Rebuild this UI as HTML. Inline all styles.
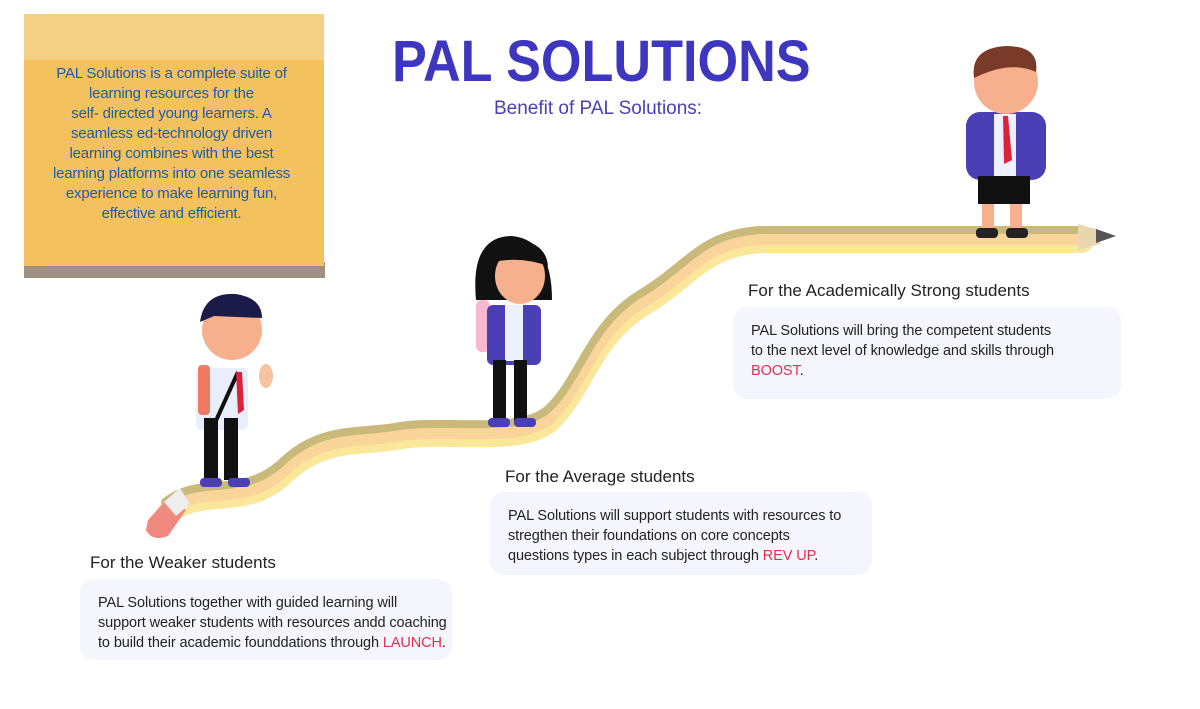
<!DOCTYPE html>
<html><head><meta charset="utf-8">
<style>
body{margin:0;width:1200px;height:709px;background:#fff;position:relative;overflow:hidden;font-family:"Liberation Sans",sans-serif}
.abs{position:absolute}
.note{left:24px;top:14px;width:300px;height:252px;background:#f3c25e}
.note .top{position:absolute;left:0;top:0;right:0;height:46px;background:#f3d083}
.shadow{left:24px;top:262px;width:301px;height:16px;background:#a09082}
.notetxt{left:30px;top:64px;width:283px;text-align:center;color:#1d5ca6;font-size:15px;line-height:20px;letter-spacing:-0.2px;white-space:nowrap}
.title{left:392px;top:28px;font-size:58px;font-weight:bold;color:#3d36bf;transform-origin:0 0;transform:scaleX(0.9)}
.sub{left:494px;top:98px;font-size:19px;color:#4a3fb5}
.h{font-size:17px;color:#222}
.box{background:#f5f5fd;border-radius:14px;font-size:14.5px;color:#222;line-height:20px;padding:14px 18px;box-sizing:border-box;white-space:nowrap;letter-spacing:-0.1px}
.red{color:#e0304a}
</style></head><body>
<div class="abs shadow"></div>
<div class="abs note"><div class="top"></div></div>
<div class="abs notetxt">PAL Solutions is a complete suite of<br>learning resources for the<br>self- directed young learners. A<br>seamless ed-technology driven<br>learning combines with the best<br>learning platforms into one seamless<br>experience to make learning fun,<br>effective and efficient.</div>
<div class="abs title">PAL SOLUTIONS</div>
<div class="abs sub">Benefit of PAL Solutions:</div>

<svg class="abs" style="left:0;top:0" width="1200" height="709">
<g fill="none" stroke-linecap="round">
<path d="M165,508 C200,480 240,505 280,470 C320,430 360,440 400,432 C450,425 520,440 548,415 C580,385 590,330 640,300 C690,270 700,240 760,236 L1080,236" stroke="#fbe79a" stroke-width="22" transform="translate(2,6)"/>
<path d="M165,508 C200,480 240,505 280,470 C320,430 360,440 400,432 C450,425 520,440 548,415 C580,385 590,330 640,300 C690,270 700,240 760,236 L1080,236" stroke="#f9d49b" stroke-width="14" transform="translate(1,2)"/>
<path d="M165,502 C200,474 240,499 280,464 C320,424 360,434 400,426 C450,419 520,434 548,409 C580,379 590,324 640,294 C690,264 700,234 760,230 L1080,230" stroke="#c9b97a" stroke-width="8"/>
</g>
<polygon points="1078,224 1100,230 1100,244 1078,250" fill="#e8d6b0"/>
<polygon points="1096,229 1116,236 1096,243" fill="#555"/>
<path d="M148,520 L168,498 L186,510 L168,536 Q152,542 146,530Z" fill="#f08a7e"/>
<path d="M164,502 L180,488 L190,504 L176,516Z" fill="#eee"/>
<g>
<rect x="196" y="368" width="52" height="62" rx="6" fill="#e8eefc"/>
<rect x="198" y="365" width="12" height="50" rx="4" fill="#f07a62"/>
<rect x="204" y="418" width="14" height="62" fill="#111"/><rect x="224" y="418" width="14" height="62" fill="#111"/>
<rect x="200" y="478" width="22" height="9" rx="4" fill="#4a3fb5"/><rect x="228" y="478" width="22" height="9" rx="4" fill="#4a3fb5"/>
<circle cx="232" cy="330" r="30" fill="#f6b08e"/>
<path d="M200,322 Q204,292 236,294 Q262,298 262,318 L214,316 Z" fill="#1c1a48"/>
<line x1="238" y1="372" x2="214" y2="425" stroke="#111" stroke-width="4"/>
<polygon points="236,372 242,372 244,410 238,414" fill="#d8233a"/>
<ellipse cx="266" cy="376" rx="7" ry="12" fill="#f6c2a0"/>
</g>
<g>
<rect x="476" y="300" width="14" height="52" rx="6" fill="#f6b8d0"/>
<rect x="487" y="305" width="54" height="60" rx="6" fill="#4a3fb5"/>
<rect x="505" y="305" width="18" height="56" fill="#eef0ff"/>
<rect x="493" y="360" width="13" height="64" fill="#111"/><rect x="514" y="360" width="13" height="64" fill="#111"/>
<rect x="488" y="418" width="22" height="9" rx="4" fill="#4a3fb5"/><rect x="514" y="418" width="22" height="9" rx="4" fill="#4a3fb5"/>
<path d="M476,300 Q470,236 512,236 Q552,240 552,300 Z" fill="#111"/>
<ellipse cx="520" cy="276" rx="25" ry="28" fill="#f6b08e"/>
<path d="M494,262 Q500,240 520,240 Q546,244 548,266 Q520,256 494,262Z" fill="#111"/>
</g>
<g>
<rect x="966" y="112" width="80" height="68" rx="14" fill="#4a3fb5"/>
<rect x="994" y="114" width="22" height="64" fill="#eef0ff"/>
<polygon points="1003,116 1008,116 1012,160 1004,164" fill="#d8233a"/>
<rect x="978" y="176" width="52" height="28" fill="#111"/>
<rect x="982" y="204" width="12" height="26" fill="#f6b08e"/><rect x="1010" y="204" width="12" height="26" fill="#f6b08e"/>
<rect x="976" y="228" width="22" height="10" rx="4" fill="#222"/><rect x="1006" y="228" width="22" height="10" rx="4" fill="#222"/>
<circle cx="1006" cy="82" r="32" fill="#f6b08e"/>
<path d="M974,78 Q970,48 1006,46 Q1040,46 1036,72 Q1010,60 974,78Z" fill="#7a3a2a"/>
</g>
</svg>

<div class="abs h" style="left:748px;top:281px">For the Academically Strong students</div>
<div class="abs box" style="left:733px;top:307px;width:388px;height:92px">PAL Solutions will bring the competent students<br>to the next level of knowledge and skills through<br><span class="red">BOOST</span>.</div>
<div class="abs h" style="left:505px;top:467px">For the Average students</div>
<div class="abs box" style="left:490px;top:492px;width:382px;height:83px">PAL Solutions will support students with resources to<br>stregthen their foundations on core concepts<br>questions types in each subject through <span class="red">REV UP</span>.</div>
<div class="abs h" style="left:90px;top:553px">For the Weaker students</div>
<div class="abs box" style="left:80px;top:579px;width:372px;height:81px">PAL Solutions together with guided learning will<br>support weaker students with resources andd coaching<br>to build their academic founddations through <span class="red">LAUNCH</span>.</div>
</body></html>
